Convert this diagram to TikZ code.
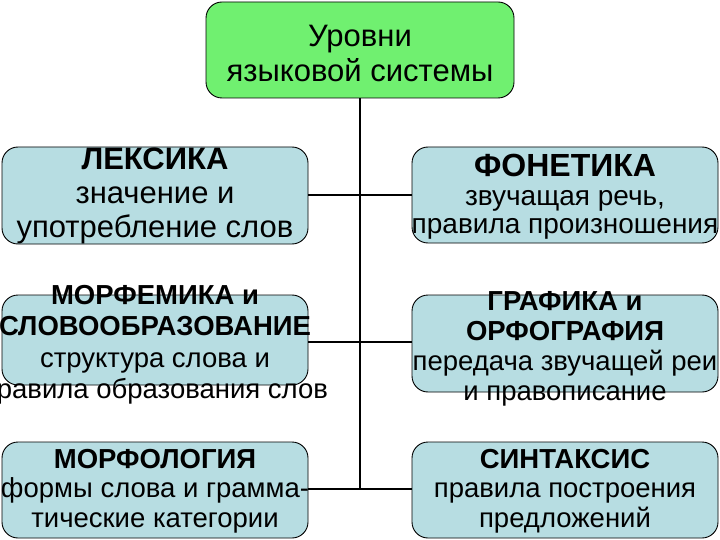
\documentclass[tikz,border=0pt]{standalone}
\usepackage{fontspec}
\setmainfont{Liberation Sans}
\definecolor{boxblue}{RGB}{183,221,226}
\definecolor{boxgreen}{RGB}{112,240,112}
\tikzset{
  box/.style={draw=black, line width=0.9pt, rounded corners=16pt, fill=boxblue, inner sep=0pt},
  topbox/.style={box, fill=boxgreen},
  txt/.style={align=center, inner sep=0pt, text=black},
  link/.style={line width=2.8pt, black}
}
\begin{document}
\begin{tikzpicture}[x=1pt,y=-1pt]
\useasboundingbox (0,0) rectangle (720,540);
\fill[white] (0,0) rectangle (720,540);
% boxes
\node[topbox, minimum width=308pt, minimum height=96pt] (top) at (360,50) {};
\node[box, minimum width=306pt, minimum height=97pt] (L1) at (155,195.5) {};
\node[box, minimum width=306pt, minimum height=96pt] (R1) at (565,195) {};
\node[box, minimum width=306pt, minimum height=90pt] (L2) at (155,340) {};
\node[box, minimum width=306pt, minimum height=97pt] (R2) at (565,343.5) {};
\node[box, minimum width=306pt, minimum height=96pt] (L3) at (155,490) {};
\node[box, minimum width=306pt, minimum height=96pt] (R3) at (565,490) {};
% junctions on trunk
\coordinate (j1) at (360,195);
\coordinate (j2) at (360,342);
\coordinate (j3) at (360,489);
% connectors
\draw[link] (top.south) -- (j3);
\draw[link] (j1 -| L1.east) -- (j1 -| R1.west);
\draw[link] (j2 -| L2.east) -- (j2 -| R2.west);
\draw[link] (j3 -| L3.east) -- (j3 -| R3.west);
% texts
\node[txt, font=\fontsize{31}{35}\selectfont] (ttop) at (360,53) {Уровни\\языковой системы};
\node[txt, font=\fontsize{31}{34}\selectfont] (tL1) at (155,196) {\textbf{ЛЕКСИКА}\\значение и\\употребление слов};
\node[txt, font=\fontsize{28}{28.5}\selectfont] (tR1) at (565,197) {{\fontsize{32}{32}\selectfont\textbf{ФОНЕТИКА}}\\звучащая речь,\\правила произношения};
\node[txt, font=\fontsize{27.5}{31.5}\selectfont] (tL2) at (155,345) {\textbf{МОРФЕМИКА и}\\\textbf{СЛОВООБРАЗОВАНИЕ}\\структура слова и\\правила образования слов};
\node[txt, font=\fontsize{27.5}{30}\selectfont] (tR2) at (565,349) {\textbf{ГРАФИКА и}\\\textbf{ОРФОГРАФИЯ}\\передача звучащей реи\\и правописание};
\node[txt, font=\fontsize{27.5}{29.5}\selectfont] (tL3) at (155,491) {\textbf{МОРФОЛОГИЯ}\\формы слова и грамма-\\тические категории};
\node[txt, font=\fontsize{27.5}{29.5}\selectfont] (tR3) at (565,491) {\textbf{СИНТАКСИС}\\правила построения\\предложений};
\end{tikzpicture}
\end{document}
